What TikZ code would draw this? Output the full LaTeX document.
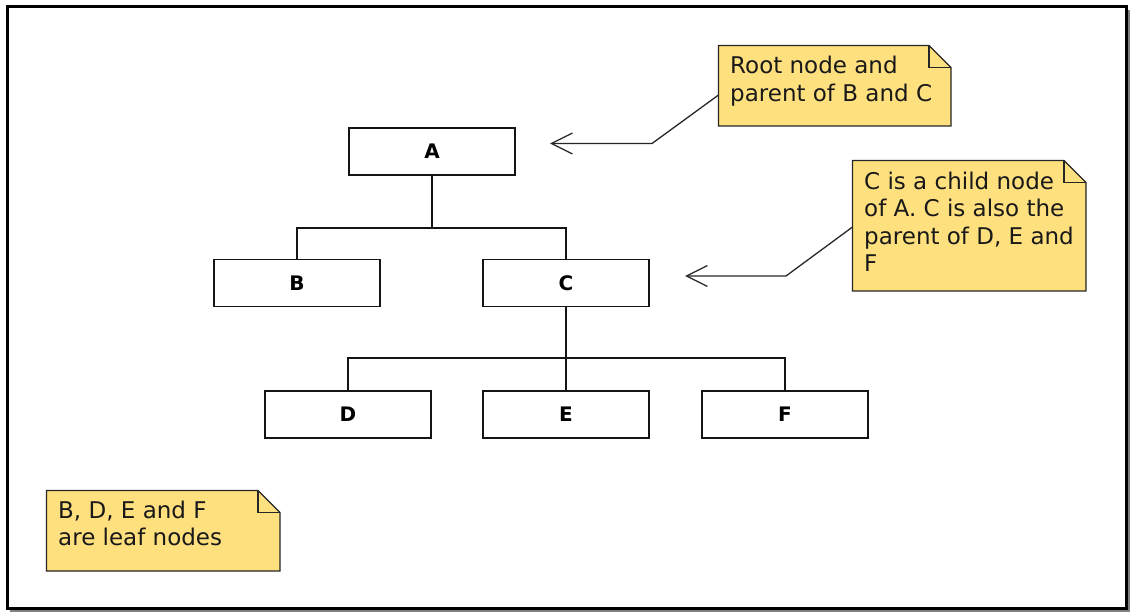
\documentclass[tikz,border=0pt]{standalone}
\usepackage{fontspec}
\setmainfont{DejaVu Sans}
\usetikzlibrary{arrows.meta}
\definecolor{notefill}{RGB}{255,224,126}
\definecolor{lineblk}{RGB}{20,20,20}
\tikzset{
  treebox/.style={draw=lineblk, line width=1.3pt, fill=white, minimum width=166pt, minimum height=47pt, inner sep=0pt, font=\fontsize{20}{24}\selectfont\bfseries},
  notetext/.style={inner sep=0pt, align=left, anchor=north west, font=\fontsize{23}{27.5}\selectfont, text=black!90},
  noteshape/.style={draw=black!85, line width=1.3pt, fill=notefill, line join=miter},
  conn/.style={draw=lineblk, line width=1.7pt},
  callout/.style={draw=black!85, line width=1.3pt, -{Straight Barb[length=21pt,width=21pt]}},
}
\begin{document}
\begin{tikzpicture}[x=1pt,y=-1pt]
\useasboundingbox (0,0) rectangle (1130,612);
% frame
\draw[gray, line width=2pt] (1129,10) -- (1129,611) -- (10,611);
\draw[black, line width=3pt] (7.5,6.5) rectangle (1126.5,608.5);
% tree nodes
\node[treebox] (A) at (432,151.5) {A};
\node[treebox] (B) at (297,283) {B};
\node[treebox] (C) at (566,283) {C};
\node[treebox] (D) at (348,414.5) {D};
\node[treebox] (E) at (566,414.5) {E};
\node[treebox] (F) at (785,414.5) {F};
\coordinate (j1) at (432,228);
\coordinate (j2) at (566,358);
\draw[conn] (A.south) -- (j1) -| (B.north);
\draw[conn] (j1) -| (C.north);
\draw[conn] (C.south) -- (j2) -| (D.north);
\draw[conn] (j2) -- (E.north);
\draw[conn] (j2) -| (F.north);
% note 1
\coordinate (n1a) at (718.5,45.5);
\coordinate (n1b) at (951,126);
\draw[noteshape] (n1a) -- (929,45.5) -- (951,67.5) -- (n1b) -- (718.5,126) -- cycle;
\draw[noteshape, fill=none] (929,45.5) -- (929,67.5) -- (951,67.5);
\node[notetext] (t1) at (730,56) {Root node and\\parent of B and C};
% note 2
\coordinate (n2a) at (852.5,160.5);
\draw[noteshape] (n2a) -- (1064,160.5) -- (1086,182.5) -- (1086,291) -- (852.5,291) -- cycle;
\draw[noteshape, fill=none] (1064,160.5) -- (1064,182.5) -- (1086,182.5);
\node[notetext] (t2) at (864,171.5) {C is a child node\\of A. C is also the\\parent of D, E and\\F};
% note 3
\coordinate (n3a) at (46.5,490.5);
\draw[noteshape] (n3a) -- (258,490.5) -- (280,512.5) -- (280,571) -- (46.5,571) -- cycle;
\draw[noteshape, fill=none] (258,490.5) -- (258,512.5) -- (280,512.5);
\node[notetext] (t3) at (58,500.5) {B, D, E and F\\are leaf nodes};
% callouts
\coordinate (c1s) at (718.5,95);
\coordinate (c1m) at (652,143.5);
\coordinate (c1e) at (550,143.5);
\draw[callout] (c1s) -- (c1m) -- (c1e);
\coordinate (c2s) at (852.5,227);
\coordinate (c2m) at (786,276);
\coordinate (c2e) at (685,276);
\draw[callout] (c2s) -- (c2m) -- (c2e);
\end{tikzpicture}
\end{document}
